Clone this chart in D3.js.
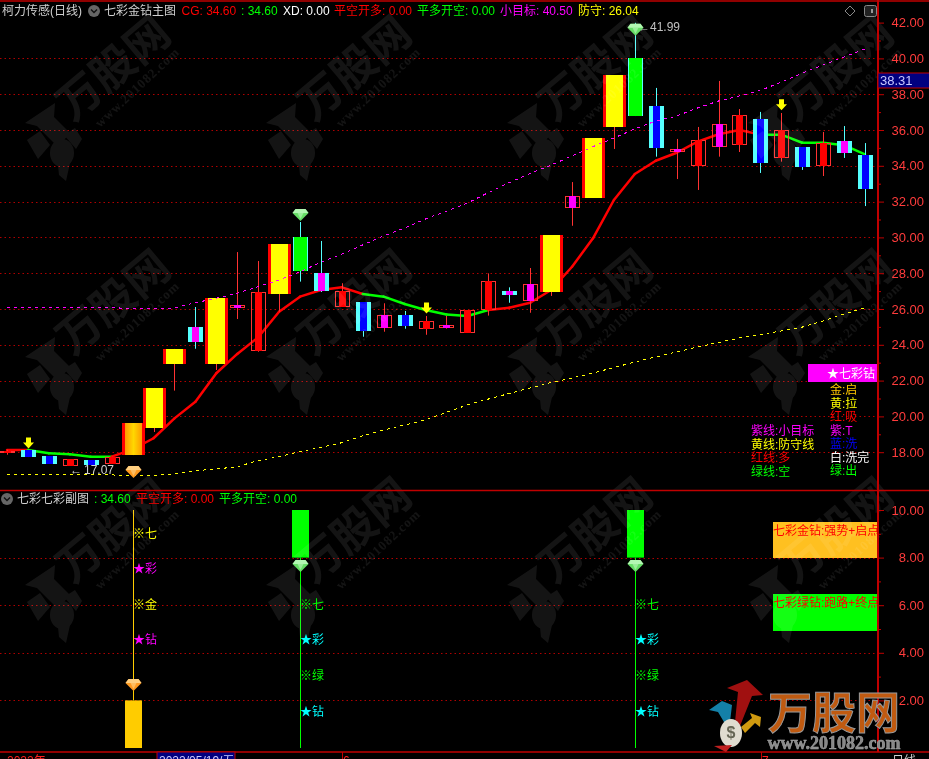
<!DOCTYPE html>
<html><head><meta charset="utf-8">
<style>html,body{margin:0;padding:0;background:#000;overflow:hidden}svg{display:block}text{font-family:"Liberation Sans","Noto Sans CJK SC",sans-serif;font-size:12px}</style>
<script src="https://cdnjs.cloudflare.com/ajax/libs/d3/7.8.5/d3.min.js"></script></head><body>
<script>
// bar index -1 is the clipped candle at the left edge
const kinds=["rd","cy","cy","rd","cy","rd","gd","yl","yl","cm","yl","rm","rd","yl","gr","cm","rd","cy","rm","cy","rd","rm","rd","rd","cm","rm","yl","rm","yl","yl","gr","cy","rm","rd","rm","rd","cy","rd","cy","rd","cm","cy"];
const tops=[18.04,18.12,17.79,17.60,17.56,17.75,19.63,21.59,23.77,25.00,26.61,26.21,26.93,29.63,30.01,28.01,26.99,26.39,25.65,25.66,25.31,25.09,25.93,27.55,27.01,27.38,30.13,32.31,35.55,39.07,40.02,37.34,34.94,35.44,36.34,36.82,36.61,36.00,35.05,35.27,35.39,34.60];
const bottoms=[17.96,17.73,17.34,17.23,17.30,17.34,17.84,19.35,22.93,24.14,22.93,26.07,23.67,26.84,28.14,26.99,26.13,24.77,24.96,25.05,24.87,24.96,24.68,25.94,26.77,26.46,26.97,31.66,32.20,36.17,36.78,34.98,34.79,34.01,35.07,35.18,34.14,34.45,33.92,34.01,34.72,32.70];
const highs=[18.14,18.12,17.79,17.60,17.56,17.75,19.63,21.59,23.77,26.11,26.61,29.18,28.68,29.63,30.86,29.80,27.44,26.39,26.32,25.89,25.61,25.61,25.93,27.99,27.21,28.29,30.13,33.09,35.55,39.07,41.99,38.35,35.50,36.17,38.74,37.17,37.01,36.95,35.05,35.89,36.22,35.27];
const lows=[17.86,17.73,17.34,17.23,17.30,17.34,17.84,19.13,21.44,23.78,22.59,25.44,23.61,25.85,27.53,26.95,26.13,24.45,24.73,24.90,24.56,24.90,24.68,25.63,26.35,25.79,26.73,30.65,32.20,34.94,36.78,34.51,33.26,32.65,34.51,34.77,33.60,34.23,33.77,33.43,34.44,31.75];
const cgLine=[18.12,18.12,17.94,17.88,17.75,17.75,18.16,18.78,19.89,20.82,22.41,23.49,24.42,25.85,26.69,27.06,27.21,26.84,26.69,26.28,25.94,25.69,25.61,25.94,26.07,26.35,27.06,28.36,29.95,32.09,33.54,34.28,34.73,35.35,35.76,36.00,35.74,35.74,35.29,35.29,35.15,34.64];
const cgRising=[1,0,0,0,0,1,1,1,1,1,1,1,1,1,1,1,1,0,0,0,0,0,0,1,1,1,1,1,1,1,1,1,1,1,1,1,0,0,0,0,0];
const targetLine=[26.07,26.07,26.07,26.07,26.07,26.07,26.03,26.02,26.06,26.35,26.60,26.88,27.25,27.62,28.08,28.61,29.07,29.58,30.08,30.53,31.03,31.47,31.92,32.50,33.06,33.58,34.04,34.55,35.07,35.55,36.06,36.50,36.78,37.23,37.62,37.90,38.21,38.68,39.18,39.63,40.08,40.53];
const guardLine=[16.77,16.77,16.77,16.77,16.77,16.73,16.69,16.70,16.80,16.97,17.06,17.19,17.53,17.75,18.03,18.27,18.53,18.92,19.24,19.52,19.80,20.23,20.64,20.97,21.28,21.59,21.89,22.15,22.42,22.73,23.04,23.32,23.60,23.88,24.13,24.38,24.58,24.77,24.99,25.33,25.72,26.06];
const barIndex=d3.range(-1,41);
const arrowBars=[0,19,36];
const arrowPrices=[18.20,25.75,37.10];
const diamondBars=[5,13,29];
const diamondPrices=[16.89,31.25,41.6];
const diamondKinds=["orange","green","green"];
const mainTicks=[18,20,22,24,26,28,30,32,34,36,38,40,42];
const mainMinor=[19,21,23,25,27,29,31,33,35,37,39,41];
const subTicks=[2,4,6,8,10];
const subMinor=[3,5,7,9];
const subBars=[5,13,29];
const subLo=[0,8,8];
const subHi=[2,10,10];
const subStem=[[2,10],[0,8],[0,8]];
const legendRight=[["金:启","#ffc800"],["黄:拉","#ffff00"],["红:吸","#ff0000"],["紫:T","#ff00ff"],["蓝:洗","#0000ff"],["白:洗完","#ffffff"],["绿:出","#00ff00"]];
const legendLeft=[["紫线:小目标","#ff00ff"],["黄线:防守线","#ffff00"],["红线:多","#ff0000"],["绿线:空","#00ff00"]];
const RED="#c00000",TICK="#ff3c3c";

const W=929,H=759,axisX=878;
const svg=d3.select("body").append("svg").attr("width",W).attr("height",H).style("background","#000");
const defs=svg.append("defs");
const gg=defs.append("linearGradient").attr("id","gold");
gg.append("stop").attr("offset","0").attr("stop-color","#ff9a00");
gg.append("stop").attr("offset",".5").attr("stop-color","#ffd800");
gg.append("stop").attr("offset","1").attr("stop-color","#ff9a00");
defs.append("clipPath").attr("id","plot").append("rect").attr("x",0).attr("y",0).attr("width",axisX).attr("height",H);

const x=d3.scaleLinear().domain([-1,40]).range([7.07,865]);
const y=d3.scaleLinear().domain([18,40]).range([452.2,58.4]);
const ys=d3.scaleLinear().domain([0,10]).range([748,510]);
const px=i=>Math.round(x(i));
let root=svg.append("g").attr("clip-path","url(#plot)");

function label(sel,xp,yp,str,color,anchor){return sel.append("text").attr("x",xp).attr("y",yp).attr("dy","0.36em").attr("fill",color).attr("text-anchor",anchor||"start").text(str);}

// grid
root.append("g").selectAll("line").data(mainTicks.filter(v=>v<=40)).join("line").attr("x1",0).attr("x2",axisX).attr("y1",d=>Math.round(y(d))+.5).attr("y2",d=>Math.round(y(d))+.5).attr("stroke","#b00000").attr("stroke-dasharray","1.5 3");
root.append("g").selectAll("line").data(subTicks.filter(v=>v<10)).join("line").attr("x1",0).attr("x2",axisX).attr("y1",d=>Math.round(ys(d))+.5).attr("y2",d=>Math.round(ys(d))+.5).attr("stroke","#b00000").attr("stroke-dasharray","1.5 3");

// moving line under the candles, coloured by direction
const cgG=root.append("g");
d3.range(cgLine.length-1).forEach(k=>{
  const ln=d3.line().x(d=>x(d[0])).y(d=>y(d[1]));
  cgG.append("path").attr("d",ln([[barIndex[k],cgLine[k]],[barIndex[k+1],cgLine[k+1]]])).attr("stroke",cgRising[k]?"#ff0000":"#00ff00").attr("stroke-width",2.5).attr("fill","none").attr("stroke-linecap","round");
});

// candles
const candles=root.append("g");
barIndex.forEach((b,k)=>{
  const cx=px(b),kind=kinds[k],t=Math.round(y(tops[k])),bt=Math.round(y(bottoms[k])),h=Math.max(bt-t,2);
  const wick=(kind==="cy"||kind==="cm"||kind==="gr")?"#55ffff":"#ff3232";
  candles.append("line").attr("x1",cx+.5).attr("x2",cx+.5).attr("y1",y(highs[k])).attr("y2",y(lows[k])).attr("stroke",wick);
  const rect=(xx,w,fill,st)=>candles.append("rect").attr("x",xx).attr("y",t).attr("width",w).attr("height",h).attr("fill",fill).attr("stroke",st||"none");
  if(kind==="yl"||kind==="gd"){
    rect(cx-11,23,"#ff0000");
    rect(cx-8,17,kind==="gd"?"url(#gold)":"#ffff00");
  }else if(kind==="cy"||kind==="cm"){
    rect(cx-7,15,"#55ffff");
    rect(cx-3,7,kind==="cy"?"#0000ff":"#ff00ff");
  }else if(kind==="gr"){
    rect(cx-7,15,"#55ffff");
    rect(cx-6,13,"#00ff00");
  }else{
    candles.append("rect").attr("x",cx-6.5).attr("y",t+.5).attr("width",14).attr("height",h-1).attr("fill","none").attr("stroke","#ff3232");
    rect(cx-3,7,kind==="rd"?"#ff0000":"#ff00ff");
  }
});

// dashed lines over the candles
const dl=d3.line().x((d,i)=>x(barIndex[i])).y(d=>y(d));
root.append("path").attr("d",dl(targetLine)).attr("fill","none").attr("stroke","#ff00ff").attr("stroke-dasharray","3 4").attr("shape-rendering","crispEdges");
root.append("path").attr("d",dl(guardLine)).attr("fill","none").attr("stroke","#ffff00").attr("stroke-dasharray","3 4").attr("shape-rendering","crispEdges");

// sub panel bars
subBars.forEach((b,k)=>{
  const cx=px(b)+.5,col=k===0?"#ffcc00":"#00ff00";
  root.append("rect").attr("x",cx-8.5).attr("width",17).attr("y",ys(subHi[k])).attr("height",ys(subLo[k])-ys(subHi[k])).attr("fill",col);
  root.append("line").attr("x1",cx).attr("x2",cx).attr("y1",ys(subStem[k][1])).attr("y2",ys(subStem[k][0])).attr("stroke",col).attr("stroke-width",1);
});

// panel boxes
root.append("rect").attr("x",773).attr("y",522).attr("width",105).attr("height",36).attr("fill","#ffc020");
root.append("rect").attr("x",773).attr("y",594).attr("width",105).attr("height",37).attr("fill","#00ff00");
root.append("rect").attr("x",808).attr("y",364).attr("width",70).attr("height",18).attr("fill","#ff00ff");

// watermark tiles
const wm=svg.append("g").attr("fill","#fff").attr("opacity",.08);
[113,354,595,836].forEach(tx=>[68,302,530].forEach(ty=>{
  wm.append("text").attr("transform",`translate(${tx},${ty}) rotate(-40)`).attr("text-anchor","middle").attr("dy",".36em").style("font-size","44px").style("font-weight","700").text("万股网");
  wm.append("text").attr("transform",`translate(${tx+24},${ty+19}) rotate(-43)`).attr("text-anchor","middle").attr("dy",".36em").style("font-size","13px").style("font-weight","700").style("font-family","Liberation Serif").style("letter-spacing","1px").text("www.201082.com");
  const bd=wm.append("g").attr("transform",`translate(${tx-51},${ty+85})`);
  bd.append("path").attr("d","M-7,-50L-37,-30L-25,-27L-4,-6L8,-20L-8,-36Z");
  bd.append("path").attr("d","M13,-25L2,-18L14,-4L20,-14Z");
  bd.append("path").attr("d","M-35,-13L-22,-22L-12,-8L-24,6Z");
  bd.append("ellipse").attr("rx",12).attr("ry",14);
  bd.append("path").attr("d","M-4,12L8,10L4,28L-3,22Z");
}));
root=svg.append("g").attr("clip-path","url(#plot)");

// yellow arrows
arrowBars.forEach((b,k)=>{
  const cx=px(b)+.5,ty=y(arrowPrices[k]);
  root.append("path").attr("d",`M${cx},${ty}l-5.5,-6h3v-5h5v5h3z`).attr("fill","#ffff00");
});
// high / low notes
label(root,70,470,"←","#d0d0d0");
label(root,84,470,"17.07","#d0d0d0");
label(root,638,27,"←","#c0c0c0");
label(root,650,27,"41.99","#c0c0c0");
// diamonds
function diamond(cx,cy,kind){
  const g=root.append("g").attr("transform",`translate(${cx},${cy})`);
  const c=kind==="orange"?["#ff9a20","#ffe0a0"]:["#66dd66","#ccffcc"];
  g.append("path").attr("d","M-5,-6H5L8,-2L0,6L-8,-2Z").attr("fill",c[0]);
  g.append("path").attr("d","M-5,-6H5L8,-2H-8Z").attr("fill",c[1]).attr("opacity",.75);
  g.append("path").attr("d","M-3,-2H3L0,4Z").attr("fill",c[1]).attr("opacity",.5);
}
diamondBars.forEach((b,k)=>diamond(px(b)+.5,y(diamondPrices[k]),diamondKinds[k]));
diamond(px(5)+.5,685,"orange");
diamond(px(13)+.5,566,"green");
diamond(px(29)+.5,566,"green");

// sub panel captions
[["※七","#ffff00",534],["★彩","#ff00ff",569],["※金","#ffff00",605],["★钻","#ff00ff",640]].forEach(d=>label(root,133,d[2],d[0],d[1]));
[px(13),px(29)].forEach(cx=>[["※七","#00ff00",605],["★彩","#00ffff",640],["※绿","#00ff00",676],["★钻","#00ffff",712]].forEach(d=>label(root,cx,d[2],d[0],d[1])));
label(root,773,531,"七彩金钻:强势+启点","#ff0000");
label(root,773,603,"七彩绿钻:跑路+终点","#ff0000");
label(root,827,373.5,"★七彩钻","#ffffff");
legendRight.forEach((d,i)=>label(root,830,390+i*13.5,d[0],d[1]));
legendLeft.forEach((d,i)=>label(root,751,431+i*13.4,d[0],d[1]));

// header
function icon(cx,cy){
  svg.append("circle").attr("cx",cx).attr("cy",cy).attr("r",6).attr("fill","#666");
  svg.append("path").attr("d",`M${cx-3},${cy-1.5}l3,3l3,-3`).attr("fill","none").attr("stroke","#111").attr("stroke-width",1.4);
}
label(svg,2,11,"柯力传感(日线)","#d0d0d0");
icon(94,11);
label(svg,104,11,"七彩金钻主图","#d0d0d0");
label(svg,181.5,11,"CG: 34.60","#ff0000");
label(svg,241,11,": 34.60","#00ff00");
label(svg,283,11,"XD: 0.00","#ffffff");
label(svg,334,11,"平空开多: 0.00","#ff0000");
label(svg,417,11,"平多开空: 0.00","#00ff00");
label(svg,500,11,"小目标: 40.50","#ff00ff");
label(svg,578,11,"防守: 26.04","#ffff00");
icon(7,499);
label(svg,17,499,"七彩七彩副图","#d0d0d0");
label(svg,94,499,": 34.60","#00ff00");
label(svg,136,499,"平空开多: 0.00","#ff0000");
label(svg,219,499,"平多开空: 0.00","#00ff00");
svg.append("path").attr("d","M850,6l5,5l-5,5l-5,-5z").attr("fill","none").attr("stroke","#888");
svg.append("rect").attr("x",864.5).attr("y",5.5).attr("width",12).attr("height",11).attr("rx",2).attr("fill","#222").attr("stroke","#888");
svg.append("rect").attr("x",871).attr("y",9).attr("width",2).attr("height",4).attr("fill","#999");

// axes
function axis(scale,major,minor){
  const g=svg.append("g").attr("transform",`translate(${axisX},0)`);
  const a=g.append("g").call(d3.axisRight(scale).tickValues(major).tickSize(6).tickFormat(d3.format(".2f")));
  g.append("g").call(d3.axisRight(scale).tickValues(minor).tickSize(3).tickFormat(""));
  g.selectAll(".domain").remove();
  g.selectAll("line").attr("stroke",RED);
  a.selectAll("text").attr("x",46).attr("text-anchor","end").attr("fill",TICK).style("font-size","13px").style("font-family","Liberation Sans");
}
axis(y,mainTicks,mainMinor);
axis(ys,subTicks,subMinor);

// frame
const frame=svg.append("g").attr("stroke",RED).attr("stroke-width",1.5).attr("fill","none");
frame.append("line").attr("x1",0).attr("x2",W).attr("y1",1).attr("y2",1);
frame.append("line").attr("x1",0).attr("x2",W).attr("y1",490.5).attr("y2",490.5);
frame.append("line").attr("x1",0).attr("x2",W).attr("y1",752).attr("y2",752);
frame.append("line").attr("x1",axisX).attr("x2",axisX).attr("y1",0).attr("y2",752).attr("stroke-width",2);

// last price
svg.append("rect").attr("x",878).attr("y",73).attr("width",52).attr("height",15).attr("fill","#000080").attr("stroke",RED);
label(svg,880,80.5,"38.31","#c8c8ff").style("font-size","13px");

// site logo
const lg=svg.append("g");
lg.append("path").attr("d","M747,680L763,695L752,696L740,726L735,722L738,692L727,688Z").attr("fill","#a01010");
lg.append("path").attr("d","M709,710L722,701L732,705L730,722L724,722L718,712Z").attr("fill","#1480a8");
lg.append("path").attr("d","M741,727L752,718L750,713L761,717L760,727L755,723L745,733Z").attr("fill","#d09a10");
lg.append("ellipse").attr("cx",731).attr("cy",733).attr("rx",11).attr("ry",14).attr("fill","#e0dcd0");
lg.append("text").attr("x",731).attr("y",738).attr("text-anchor","middle").style("font-size","16px").style("font-weight","700").attr("fill","#665").text("$");
lg.append("path").attr("d","M714,746L732,745L726,752L722,750Z").attr("fill","#c02020");
lg.append("text").attr("x",834).attr("y",713).attr("dy",".36em").attr("text-anchor","middle").style("font-size","44px").style("font-weight","700").attr("fill","#c05a10").attr("stroke","#9a9a9a").attr("stroke-width",1).text("万股网");
lg.append("text").attr("x",834).attr("y",743).attr("dy",".36em").attr("text-anchor","middle").style("font-family","Liberation Serif").style("font-size","18px").style("font-weight","700").attr("fill","#888").attr("stroke","#aaa").attr("stroke-width",.5).text("www.201082.com");

// bottom strip
label(svg,7,761,"2022年","#ff2020");
svg.append("rect").attr("x",157).attr("y",752).attr("width",78).attr("height",10).attr("fill","#000080").attr("stroke","#c00000");
label(svg,159,760.5,"2022/05/19/五","#c8c8ff");
label(svg,343,761,"6","#ff2020");
label(svg,762,761,"7","#ff2020");
label(svg,892,761,"日线","#d0d0d0");
svg.append("line").attr("x1",342.5).attr("x2",342.5).attr("y1",752).attr("y2",759).attr("stroke",RED);
svg.append("line").attr("x1",761.5).attr("x2",761.5).attr("y1",752).attr("y2",759).attr("stroke",RED);
</script></body></html>
